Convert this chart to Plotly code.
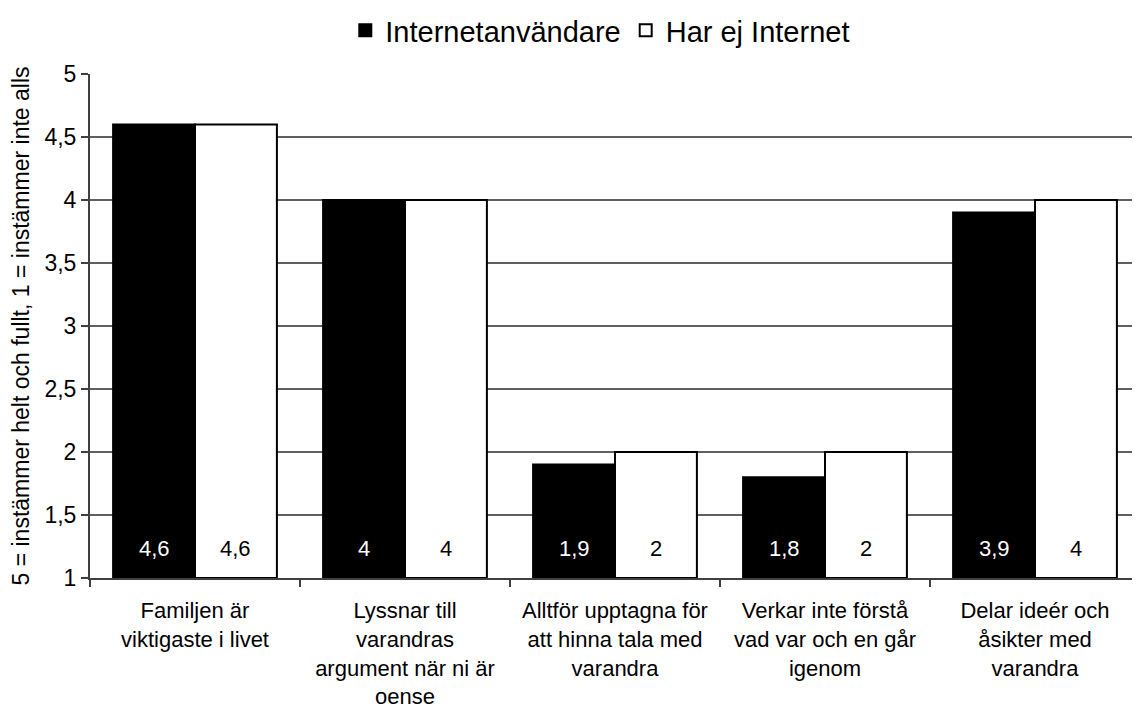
import plotly.graph_objects as go

categories = [
    "Familjen är<br>viktigaste i livet",
    "Lyssnar till<br>varandras<br>argument när ni är<br>oense",
    "Alltför upptagna för<br>att hinna tala med<br>varandra",
    "Verkar inte förstå<br>vad var och en går<br>igenom",
    "Delar ideér och<br>åsikter med<br>varandra",
]
internet_users = [4.6, 4.0, 1.9, 1.8, 3.9]
no_internet = [4.6, 4.0, 2.0, 2.0, 4.0]
y_ticks = [1, 1.5, 2, 2.5, 3, 3.5, 4, 4.5, 5]

FONT = "Liberation Sans, Arial, sans-serif"
BASE = 1
# the page body adds an 8px margin, so the figure is 8px smaller than the window
W, H = 1132, 702
MARGIN = dict(l=82, r=0, t=66, b=132)
BARGAP = 0.22


def label(v):
    return ("%g" % v).replace(".", ",")


def bar_trace(name, values, fill):
    return go.Bar(
        x=categories,
        y=[v - BASE for v in values],
        base=BASE,
        name=name,
        marker=dict(color=fill, line=dict(color="black", width=2)),
        customdata=[label(v) for v in values],
        hovertemplate="%{x}: %{customdata}<extra>" + name + "</extra>",
    )


fig = go.Figure([
    bar_trace("Internetanvändare", internet_users, "black"),
    bar_trace("Har ej Internet", no_internet, "white"),
])

# value labels near the foot of each bar
half_bar = (W - MARGIN["l"] - MARGIN["r"]) / len(categories) * (1 - BARGAP) / 4
for values, shift, color in [(internet_users, -half_bar, "white"),
                             (no_internet, half_bar, "black")]:
    for cat, v in zip(categories, values):
        fig.add_annotation(
            x=cat, y=BASE, text=label(v), showarrow=False,
            xshift=shift, yshift=30,
            font=dict(size=22, color=color, family=FONT),
        )

fig.update_layout(
    width=W,
    height=H,
    barmode="group",
    bargap=BARGAP,
    bargroupgap=0,
    separators=", ",
    paper_bgcolor="white",
    plot_bgcolor="white",
    font=dict(family=FONT, size=22, color="black"),
    margin=MARGIN,
    legend=dict(
        orientation="h",
        x=0.486,
        xanchor="center",
        y=0.968,
        yref="container",
        yanchor="middle",
        font=dict(size=29),
        traceorder="normal",
    ),
)

fig.update_xaxes(
    showline=True,
    linecolor="#404040",
    linewidth=2,
    ticks="outside",
    tickson="boundaries",
    ticklen=7,
    tickcolor="#404040",
    tickwidth=2,
    showgrid=False,
    tickfont=dict(size=22),
    ticklabelstandoff=12,
    automargin=False,
)

fig.update_yaxes(
    range=[1, 5],
    tickvals=y_ticks,
    tickformat=".1~f",
    showline=True,
    linecolor="#404040",
    linewidth=2,
    ticks="outside",
    ticklen=7,
    tickcolor="#404040",
    tickwidth=2,
    showgrid=True,
    gridcolor="#606060",
    gridwidth=1.5,
    zeroline=False,
    tickfont=dict(size=23),
    automargin=False,
    title=dict(text="5 = instämmer helt och fullt, 1 = instämmer inte alls",
               font=dict(size=23), standoff=14),
)

fig.write_html("out.html")
